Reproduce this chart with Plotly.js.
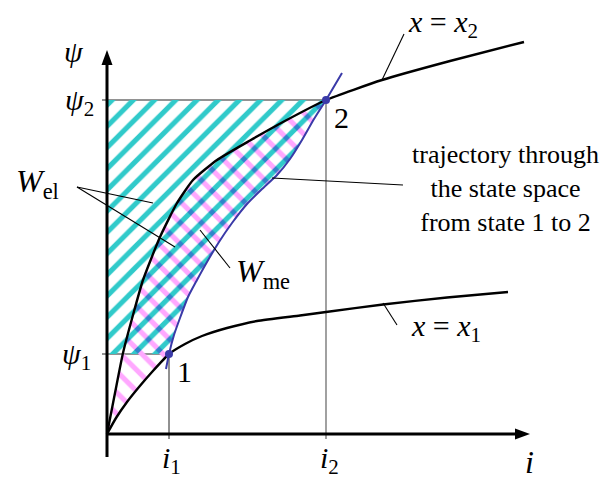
<!DOCTYPE html>
<html>
<head>
<meta charset="utf-8">
<script src="https://cdn.plot.ly/plotly-3.0.1.min.js"></script>
<style>
  html, body { margin: 0; padding: 0; background: #ffffff; }
  #chart { width: 603px; height: 479px; }
</style>
</head>
<body>
<div id="chart"></div>
<script>
// Flux linkage psi versus current i for two fixed positions x1 and x2.
// Magnetisation curve for position x = x1
var curve1I   = [0, 9, 20, 32, 45, 62, 78, 95, 120, 150, 193, 219, 276, 340, 401];
var curve1Psi = [0, 16, 32, 47, 62, 80, 90, 98, 106, 113, 118.5, 122, 129.5, 136.5, 142];

// Magnetisation curve for position x = x2
var curve2I   = [0, 8, 16, 26, 36, 53, 70, 86, 110, 143, 176, 219, 275, 343, 417];
var curve2Psi = [0, 41, 81, 119, 154, 197, 231, 254, 274, 293.5, 312, 334, 354, 373, 392];

// Trajectory through the state space from state 1 to state 2
var trajI   = [59, 62, 67, 73, 81, 90, 100, 112, 125, 140, 155, 170, 183, 195, 207, 219, 235];
var trajPsi = [65, 80, 99, 116, 137, 154, 172, 192, 211, 230, 245, 259, 275, 294, 315, 334, 361];

// Operating states
var stateLabels = ['1', '2'];
var stateI   = [62, 219];
var statePsi = [80, 334];

// Axis extents
var iAxisEnd = 423, psiAxisEnd = 384, psiAxisStart = -23;

var FONT = 'Liberation Serif, Times New Roman, serif';
var CYAN = '#30caca', PINK = '#ffa8ff', BLUE = '#3a3aa8';

// pieces of a curve between two flux levels
function between(xs, ys, lo, hi) {
  var ox = [], oy = [];
  for (var k = 0; k < xs.length; k++) {
    if (ys[k] >= lo && ys[k] <= hi) { ox.push(xs[k]); oy.push(ys[k]); }
  }
  return { x: ox, y: oy };
}
var trajSec = between(trajI, trajPsi, statePsi[0], statePsi[1]);
var c1Sec = between(curve1I, curve1Psi, 0, statePsi[0]);
var c2Sec = between(curve2I, curve2Psi, 0, statePsi[1]);

// lower boundary of W_me: curve x1 up to state 1, then the trajectory up to state 2
var meLowX = c1Sec.x.concat(trajSec.x.slice(1));
var meLowY = c1Sec.y.concat(trajSec.y.slice(1));

var SMOOTH = { shape: 'spline', smoothing: 0.5, width: 0, color: 'rgba(0,0,0,0)' };
var traces = [
  // W_el: left of the trajectory between psi1 and psi2
  { x: trajSec.x, y: trajSec.y, mode: 'lines', line: SMOOTH, fill: 'tozerox', fillcolor: 'rgba(0,0,0,0)',
    fillpattern: { shape: '/', fgcolor: CYAN, bgcolor: 'rgba(0,0,0,0)', size: 15, solidity: 0.34 },
    hoverinfo: 'skip', showlegend: false },
  // W_me: enclosed by curve x1, the trajectory and curve x2
  { x: meLowX, y: meLowY, mode: 'lines', line: SMOOTH, hoverinfo: 'skip', showlegend: false },
  { x: c2Sec.x, y: c2Sec.y, mode: 'lines', line: SMOOTH, fill: 'tonexty', fillcolor: 'rgba(0,0,0,0)',
    fillpattern: { shape: '\\', fgcolor: PINK, bgcolor: 'rgba(0,0,0,0)', size: 15, solidity: 0.34 },
    hoverinfo: 'skip', showlegend: false },
  { x: curve1I, y: curve1Psi, mode: 'lines', line: { color: '#000', width: 2.4, shape: 'spline', smoothing: 0.5 },
    hoverinfo: 'skip', showlegend: false },
  { x: curve2I, y: curve2Psi, mode: 'lines', line: { color: '#000', width: 2.4, shape: 'spline', smoothing: 0.5 },
    hoverinfo: 'skip', showlegend: false },
  { x: trajI, y: trajPsi, mode: 'lines', line: { color: BLUE, width: 2, shape: 'spline', smoothing: 0.5 },
    hoverinfo: 'skip', showlegend: false },
  { x: stateI, y: statePsi, mode: 'markers', marker: { color: BLUE, size: 8 },
    hoverinfo: 'skip', showlegend: false }
];

var GUIDE = { color: '#6e6e6e', width: 1.3 };
var LEAD = { color: '#000', width: 1.1 };
var shapes = [
  // guide lines to the axes
  { type: 'line', x0: -5, x1: stateI[1], y0: statePsi[1], y1: statePsi[1], line: GUIDE, layer: 'below' },
  { type: 'line', x0: -5, x1: stateI[0], y0: statePsi[0], y1: statePsi[0], line: GUIDE, layer: 'below' },
  { type: 'line', x0: stateI[0], x1: stateI[0], y0: -5, y1: statePsi[0], line: { color: '#222', width: 1 }, layer: 'below' },
  { type: 'line', x0: stateI[1], x1: stateI[1], y0: -5, y1: statePsi[1], line: GUIDE, layer: 'below' },
  // axes
  { type: 'line', x0: 0, x1: 0, y0: psiAxisStart, y1: psiAxisEnd - 8, line: { color: '#000', width: 3 } },
  { type: 'line', x0: 0, x1: iAxisEnd - 8, y0: 0, y1: 0, line: { color: '#000', width: 3 } },
  { type: 'path', path: 'M -5.5,' + (psiAxisEnd - 15) + ' L 0,' + psiAxisEnd + ' L 5.5,' + (psiAxisEnd - 15) + ' Z',
    fillcolor: '#000', line: { width: 0 } },
  { type: 'path', path: 'M ' + (iAxisEnd - 15) + ',5.5 L ' + iAxisEnd + ',0 L ' + (iAxisEnd - 15) + ',-5.5 Z',
    fillcolor: '#000', line: { width: 0 } },
  // leader lines
  { type: 'line', x0: -30, y0: 247, x1: 46, y1: 231, line: LEAD },
  { type: 'line', x0: -30, y0: 247, x1: 68, y1: 187, line: LEAD },
  { type: 'line', x0: 93, y0: 204, x1: 123, y1: 166, line: LEAD },
  { type: 'line', x0: 165, y0: 256, x1: 296, y1: 249, line: LEAD },
  { type: 'line', x0: 275, y0: 354, x1: 297, y1: 400, line: LEAD },
  { type: 'line', x0: 276, y0: 131, x1: 290, y1: 109, line: LEAD }
];

function label(x, y, text, size, xanchor, yanchor, extra) {
  var a = { x: x, y: y, text: text, showarrow: false, xanchor: xanchor || 'center', yanchor: yanchor || 'middle',
    font: { family: FONT, size: size, color: '#000' } };
  if (extra) for (var k in extra) a[k] = extra[k];
  return a;
}

var annotations = [
  label(-33, 383, '<i>ψ</i>', 30),
  label(-11, 332, '<i>ψ</i><sub>2</sub>', 30, 'right'),
  label(-14, 78, '<i>ψ</i><sub>1</sub>', 30, 'right'),
  label(64, -26, '<i>i</i><sub>1</sub>', 30),
  label(222, -26, '<i>i</i><sub>2</sub>', 30),
  label(422, -28, '<i>i</i>', 32),
  label(stateI[0] + 15, statePsi[0] - 17, stateLabels[0], 30),
  label(stateI[1] + 15, statePsi[1] - 17, stateLabels[1], 30),
  label(299, 410, '<i>x</i> = <i>x</i><sub>2</sub>', 30, 'left'),
  label(302, 106, '<i>x</i> = <i>x</i><sub>1</sub>', 30, 'left'),
  label(-93, 251, '<i>W</i><sub>el</sub>', 32, 'left'),
  label(127, 161, '<i>W</i><sub>me</sub>', 32, 'left'),
  label(398, 246, 'trajectory through<br>the state space<br>from state 1 to 2', 26, 'center', 'middle', { align: 'center' })
];

var layout = {
  width: 603, height: 479,
  margin: { l: 0, r: 0, t: 0, b: 0 },
  font: { family: FONT, color: '#000' },
  paper_bgcolor: '#ffffff', plot_bgcolor: '#ffffff',
  xaxis: { range: [-107, 496], visible: false, fixedrange: true },
  yaxis: { range: [-45, 434], visible: false, fixedrange: true },
  shapes: shapes,
  annotations: annotations,
  showlegend: false
};

Plotly.newPlot('chart', traces, layout, { displayModeBar: false, staticPlot: true }).then(function (gd) {
  // the W_me hatching sits in the group of its lower boundary; let it mix with the W_el hatching
  var groups = gd.querySelectorAll('.scatterlayer .trace');
  if (groups.length > 1) groups[1].style.mixBlendMode = 'multiply';
});
</script>
</body>
</html>
